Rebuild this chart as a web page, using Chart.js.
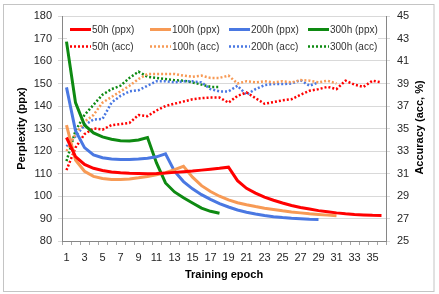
<!DOCTYPE html>
<html><head><meta charset="utf-8">
<script src="https://cdn.jsdelivr.net/npm/chart.js@4.4.1/dist/chart.umd.min.js"></script>
<style>html,body{margin:0;padding:0;background:#fff;} #wrap{width:439px;height:294px;}</style>
</head><body><div id="wrap"><canvas id="c" width="439" height="294"></canvas></div>
<script>
const epochs = [1,2,3,4,5,6,7,8,9,10,11,12,13,14,15,16,17,18,19,20,21,22,23,24,25,26,27,28,29,30,31,32,33,34,35,36];
const seriesNames = ['50h (ppx)','100h (ppx)','200h (ppx)','300h (ppx)','50h (acc)','100h (acc)','200h (acc)','300h (acc)'];
const ppx50 = [126,117.5,114,112.3,111.3,110.7,110.3,110.1,110.0,109.9,110.0,110.2,110.5,110.8,111.1,111.5,111.9,112.3,112.8,106.8,103.4,101.3,99.5,98.1,96.9,95.8,94.9,94.2,93.5,93.0,92.5,92.1,91.8,91.6,91.4,91.3];
const ppx100 = [131.5,116,111,108.7,107.8,107.3,107.3,107.6,108.1,108.7,109.4,110.4,111.7,113.2,108.4,104.6,102.0,99.9,98.3,97.0,96.1,95.3,94.6,94.0,93.4,92.9,92.5,92.1,91.8,91.5,91.2];
const ppx200 = [148.3,129,121.5,118.3,117,116.4,116.2,116.2,116.4,116.8,117.4,118.7,111,106.4,103.2,100.6,98.5,96.6,95.1,93.8,92.8,92.0,91.3,90.8,90.4,90.1,89.9,89.7,89.6];
const ppx300 = [168.6,141.5,131.5,128,126.3,125.2,124.6,124.5,124.9,126,114.7,105.8,101.8,99.2,96.9,94.6,93.2,92.3];
const acc50 = [31.3,33.3,34.5,35.0,34.9,35.3,35.4,35.5,36.2,36.1,36.6,37.0,37.2,37.4,37.6,37.7,37.75,37.75,37.3,37.9,38.2,37.7,37.2,37.35,37.5,37.6,38.0,38.35,38.5,38.7,38.5,39.25,38.9,38.7,39.25,39.1];
const acc100 = [33.0,34.5,35.6,36.2,37.3,37.8,38.3,38.8,39.4,39.85,39.85,39.85,39.85,39.7,39.6,39.7,39.5,39.5,39.7,39.0,39.2,39.1,39.2,39.1,39.2,39.1,39.3,39.25,39.1,39.25,39.0];
const acc200 = [33.4,34.3,35.3,35.8,35.85,37.3,37.9,38.3,38.4,38.8,39.2,39.2,39.1,39.2,39.2,39.1,38.5,38.3,38.3,38.8,38.0,38.5,38.85,38.95,38.95,39.0,39.3,38.8,39.1];
const acc300 = [32.1,34.8,36.2,37.1,38.0,38.5,38.8,39.5,40.05,39.6,39.5,39.4,39.3,39.25,39.1,38.9,38.7,38.7];
const ppxTicks = {min:80, max:180, step:10};
const accTicks = {min:25, max:45, step:2};
const colors = ['#ff0000','#f79a55','#4a78e2','#0e8a12'];

const FONT = "'Liberation Sans', Arial, sans-serif";
Chart.defaults.font.family = FONT;
Chart.defaults.color = '#262626';

function solid(label, data, c){ return {label, data, yAxisID:'y', borderColor:c, backgroundColor:c, borderWidth:3, pointRadius:0, tension:0, fill:false}; }
function dotted(label, data, c){ return {label, data, yAxisID:'y1', borderColor:c, backgroundColor:c, borderWidth:2.5, borderDash:[2,2], borderCapStyle:'butt', pointRadius:0, tension:0, fill:false}; }

const bgPlugin = {
  id:'bg',
  beforeDraw(chart){ const c=chart.ctx; c.save(); c.fillStyle='#fff'; c.fillRect(0,0,chart.width,chart.height); c.restore(); },
  afterDraw(chart){
    const c=chart.ctx; c.save();
    c.strokeStyle='#c4c4c4'; c.lineWidth=1; c.strokeRect(3.5,4.5,430.5,287);
    c.translate(420,127.5); c.rotate(-Math.PI/2);
    c.fillStyle='#000'; c.font='bold 11px '+FONT; c.textAlign='center'; c.textBaseline='middle';
    c.fillText('Accuracy (acc, %)',0,0);
    c.restore();
  }
};
const legendPlugin = {
  id:'insideLegend',
  beforeDatasetsDraw(chart){
    const c=chart.ctx; c.save();
    c.fillStyle='#fff'; c.fillRect(67,20,311,35);
    const cols=[70,150,229,308], rows=[29.5,46.5];
    chart.data.datasets.forEach((ds,i)=>{
      const x=cols[i%4], y=rows[Math.floor(i/4)];
      c.beginPath(); c.strokeStyle=ds.borderColor; c.lineWidth=ds.borderWidth;
      c.setLineDash(ds.borderDash||[]); c.lineCap='butt';
      c.moveTo(x,y); c.lineTo(x+21,y); c.stroke();
      c.setLineDash([]);
      c.fillStyle='#333'; c.font='10px '+FONT; c.textAlign='left'; c.textBaseline='middle';
      c.fillText(ds.label,x+22,y+0.5);
    });
    c.restore();
  }
};

new Chart(document.getElementById('c'), {
  type:'line',
  data:{
    labels: epochs,
    datasets:[
      solid(seriesNames[0], ppx50, colors[0]),
      solid(seriesNames[1], ppx100, colors[1]),
      solid(seriesNames[2], ppx200, colors[2]),
      solid(seriesNames[3], ppx300, colors[3]),
      dotted(seriesNames[4], acc50, colors[0]),
      dotted(seriesNames[5], acc100, colors[1]),
      dotted(seriesNames[6], acc200, colors[2]),
      dotted(seriesNames[7], acc300, colors[3])
    ]
  },
  options:{
    responsive:false, animation:false,
    layout:{padding:{left:0,right:0,top:16,bottom:0}},
    plugins:{legend:{display:false}, tooltip:{enabled:false}},
    scales:{
      x:{
        type:'category', offset:true,
        grid:{drawOnChartArea:false, drawTicks:true, tickLength:4, color:'#a6a6a6', offset:true},
        border:{color:'#868686'},
        ticks:{autoSkip:false, maxRotation:0, minRotation:0, padding:6, font:{size:11},
          callback:function(v,i){ return i%2===0 ? String(epochs[i]) : ''; }},
        title:{display:true, text:'Training epoch', font:{size:11, weight:'bold'}, color:'#000', padding:{top:0,bottom:12}},
        afterFit(s){ s.height = 53; }
      },
      y:{
        position:'left', min:ppxTicks.min, max:ppxTicks.max,
        ticks:{stepSize:ppxTicks.step, padding:6, font:{size:11}},
        grid:{color:'#d9d9d9', tickLength:4},
        border:{color:'#868686'},
        title:{display:true, text:'Perplexity (ppx)', font:{size:11, weight:'bold'}, color:'#000', padding:{top:15,bottom:0}},
        afterFit(s){ s.width = 62; }
      },
      y1:{
        position:'right', min:accTicks.min, max:accTicks.max,
        ticks:{stepSize:accTicks.step, padding:7, font:{size:11}},
        grid:{drawOnChartArea:false, color:'#d9d9d9', tickLength:4},
        border:{color:'#868686'},
        afterFit(s){ s.width = 53; }
      }
    }
  },
  plugins:[bgPlugin, legendPlugin]
});
</script>
</body></html>
